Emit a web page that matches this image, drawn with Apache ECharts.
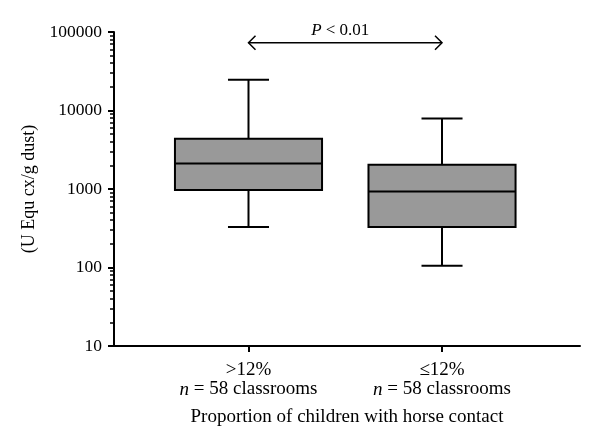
<!DOCTYPE html>
<html>
<head>
<meta charset="utf-8">
<script src="https://cdn.jsdelivr.net/npm/echarts@6/dist/echarts.min.js"></script>
<style>
  html, body { margin: 0; padding: 0; background: #fff; }
  #chart { width: 600px; height: 448px; }
</style>
</head>
<body>
<div id="chart"></div>
<script>
const categories = ['>12%', '≤12%']
const groupSize = [58, 58]
const lowerWhisker = [327, 105]
const q1 = [968, 327]
const median = [2115, 930]
const q3 = [4370, 2036]
const upperWhisker = [24700, 7930]
const yTicks = [10, 100, 1000, 10000, 100000]
const yMinorTicks = []
for (let d = 10; d < 100000; d *= 10) {
  for (let k = 2; k <= 9; k++) yMinorTicks.push(k * d)
}
const pArrowLevel = 73000

const font = 'Liberation Serif'
const boxHalf = 0.38
const capHalf = 0.106

const chart = echarts.init(document.getElementById('chart'))

const boxData = categories.map((c, i) => [i + 1, lowerWhisker[i], q1[i], median[i], q3[i], upperWhisker[i]])

const renderBox = (params, api) => {
  const x = api.value(0)
  const p = (xv, yv) => api.coord([xv, yv])
  const lineStyle = { stroke: '#000', lineWidth: 2 }
  const lo = p(x, api.value(1))
  const b1 = p(x - boxHalf, api.value(2))
  const b2 = p(x + boxHalf, api.value(4))
  const md1 = p(x - boxHalf, api.value(3))
  const md2 = p(x + boxHalf, api.value(3))
  const hi = p(x, api.value(5))
  const q1p = p(x, api.value(2))
  const q3p = p(x, api.value(4))
  const capL = p(x - capHalf, api.value(1))
  const capR = p(x + capHalf, api.value(1))
  const capL2 = p(x - capHalf, api.value(5))
  const capR2 = p(x + capHalf, api.value(5))
  return {
    type: 'group',
    children: [
      { type: 'line', shape: { x1: hi[0], y1: hi[1], x2: q3p[0], y2: q3p[1] }, style: lineStyle },
      { type: 'line', shape: { x1: lo[0], y1: lo[1], x2: q1p[0], y2: q1p[1] }, style: lineStyle },
      { type: 'line', shape: { x1: capL[0], y1: capL[1], x2: capR[0], y2: capR[1] }, style: lineStyle },
      { type: 'line', shape: { x1: capL2[0], y1: capL2[1], x2: capR2[0], y2: capR2[1] }, style: lineStyle },
      { type: 'rect', shape: { x: b1[0], y: b2[1], width: b2[0] - b1[0], height: b1[1] - b2[1] },
        style: { fill: '#999999', stroke: '#000', lineWidth: 2 } },
      { type: 'line', shape: { x1: md1[0], y1: md1[1], x2: md2[0], y2: md2[1] }, style: lineStyle }
    ]
  }
}

const renderArrow = (params, api) => {
  const a = api.coord([api.value(0), api.value(2)])
  const b = api.coord([api.value(1), api.value(2)])
  const st = { stroke: '#000', lineWidth: 1.5, fill: 'none' }
  const h = 7
  return {
    type: 'group',
    children: [
      { type: 'line', shape: { x1: a[0], y1: a[1], x2: b[0], y2: b[1] }, style: st },
      { type: 'polyline', shape: { points: [[a[0] + h, a[1] - h], [a[0], a[1]], [a[0] + h, a[1] + h]] }, style: st },
      { type: 'polyline', shape: { points: [[b[0] - h, b[1] - h], [b[0], b[1]], [b[0] - h, b[1] + h]] }, style: st },
      { type: 'text', x: (a[0] + b[0]) / 2 - 5, y: a[1] - 4,
        style: { text: '{i|P} < 0.01', textAlign: 'center', textVerticalAlign: 'bottom',
          font: '17px ' + font, fill: '#000',
          rich: { i: { fontStyle: 'italic', fontFamily: font, fontSize: 17 } } } }
    ]
  }
}

const option = {
  animation: false,
  textStyle: { fontFamily: font, color: '#000' },
  grid: { left: 114, right: 20, top: 32, bottom: 102 },
  xAxis: {
    type: 'value',
    min: 0.305,
    max: 2.713,
    name: 'Proportion of children with horse contact',
    nameLocation: 'middle',
    nameGap: 62,
    nameTextStyle: { fontSize: 19, color: '#000', fontFamily: font },
    axisLine: { lineStyle: { color: '#000', width: 2 } },
    axisTick: { customValues: [1, 2], length: 6, lineStyle: { color: '#000', width: 2 } },
    axisLabel: {
      customValues: [1, 2],
      margin: 15,
      fontSize: 19,
      lineHeight: 19,
      color: '#000',
      fontFamily: font,
      formatter: v => {
        const i = Math.round(v) - 1
        return categories[i] + '\n{i|n} = ' + groupSize[i] + ' classrooms'
      },
      rich: { i: { fontStyle: 'italic', fontSize: 19, lineHeight: 19, fontFamily: font, color: '#000' } }
    },
    splitLine: { show: false }
  },
  yAxis: [
    {
      type: 'log',
      logBase: 10,
      min: 10,
      max: 100000,
      name: '(U Equ cx/g dust)',
      nameLocation: 'middle',
      nameRotate: 90,
      nameGap: 75,
      nameTextStyle: { fontSize: 18, color: '#000', fontFamily: font },
      axisLine: { show: true, lineStyle: { color: '#000', width: 2 } },
      axisTick: { show: true, customValues: yTicks, length: 6, lineStyle: { color: '#000', width: 2 } },
      axisLabel: { customValues: yTicks, margin: 12, fontSize: 17.5, color: '#000', fontFamily: font,
        formatter: v => String(Math.round(v)) },
      splitLine: { show: false }
    },
    {
      type: 'log',
      logBase: 10,
      min: 10,
      max: 100000,
      position: 'left',
      axisLine: { show: false },
      axisTick: { show: true, customValues: yMinorTicks, length: 4, lineStyle: { color: '#000', width: 1.5 } },
      axisLabel: { show: false },
      splitLine: { show: false }
    }
  ],
  series: [
    {
      type: 'custom',
      renderItem: renderBox,
      data: boxData,
      encode: { x: 0, y: [1, 2, 3, 4, 5] }
    },
    {
      type: 'custom',
      renderItem: renderArrow,
      clip: false,
      data: [[1, 2, pArrowLevel]],
      encode: { x: [0, 1], y: 2 }
    }
  ]
}

chart.setOption(option)
</script>
</body>
</html>
